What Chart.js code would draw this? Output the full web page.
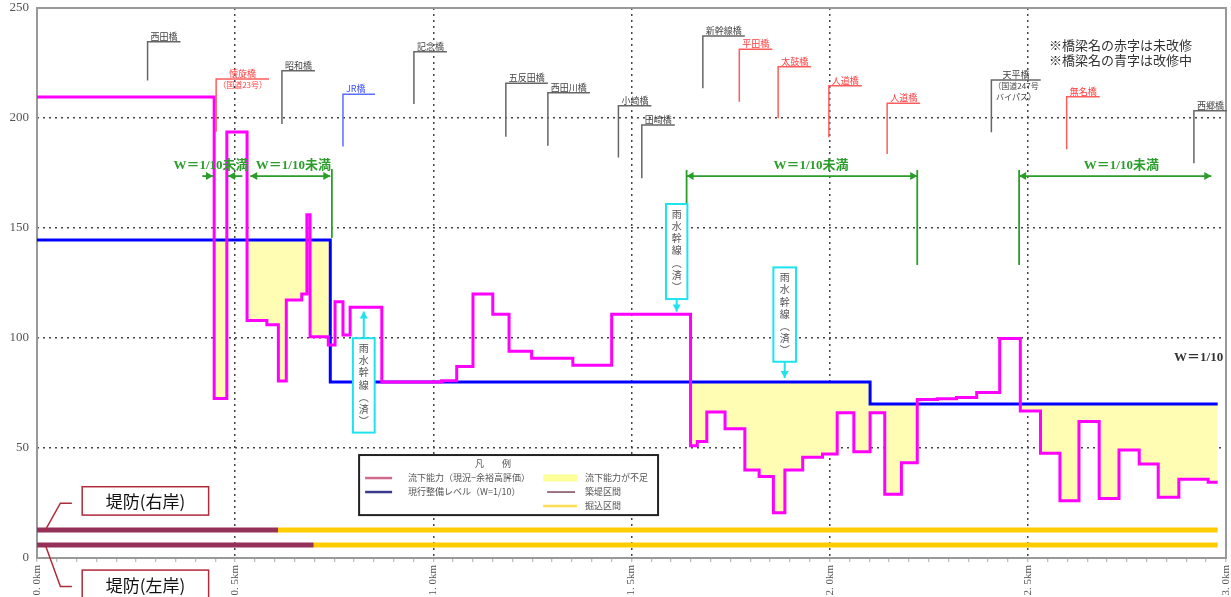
<!DOCTYPE html>
<html lang="ja">
<head>
<meta charset="utf-8">
<title>流下能力図</title>
<script src="https://cdn.jsdelivr.net/npm/chart.js@4.4.0/dist/chart.umd.min.js"></script>
<style>
  html, body { margin: 0; padding: 0; background: #fff; }
  #wrap { width: 1231px; height: 597px; position: relative; }
</style>
</head>
<body>
<div id="wrap"><canvas id="chart"></canvas></div>
<script>
// ---- data ----
// 流下能力（現況−余裕高評価）: start of each reach (km) and its value (m3/s)
const capacityKm = [0, 0.447, 0.479, 0.530, 0.580, 0.609, 0.629, 0.668, 0.681, 0.689,
  0.735, 0.752, 0.772, 0.790, 0.870, 1.021, 1.059, 1.100, 1.150, 1.191,
  1.248, 1.352, 1.450, 1.649, 1.666, 1.690, 1.736, 1.786, 1.822, 1.858,
  1.887, 1.932, 1.982, 2.019, 2.061, 2.102, 2.139, 2.181, 2.221, 2.272,
  2.320, 2.371, 2.429, 2.481, 2.532, 2.581, 2.629, 2.680, 2.730, 2.781,
  2.829, 2.881, 2.955, 2.979];
const capacityVal = [209.5, 72.5, 193.6, 108, 106, 80.5, 117.3, 120, 156, 100.6,
  96.8, 116.5, 101.4, 114, 80, 80.6, 87, 120, 110.8, 94,
  90.8, 87.6, 110.8, 51, 52.9, 66.4, 58.8, 40, 37, 20.6,
  40, 45.8, 47.3, 66, 48.3, 66, 29, 43.3, 72.1, 72.4,
  73, 75.2, 99.8, 66.8, 47.6, 26, 62, 27.1, 49.1, 42.7,
  27.6, 35.8, 34.4, 34.4];

// 現行整備レベル（W=1/10）
const levelKm = [0, 0.740, 2.102, 2.979];
const levelVal = [144.5, 80, 70, 70];

// 堤防: 築堤区間 -> 掘込区間 boundaries
const rightBankKm = [0, 0.608, 2.979];
const leftBankKm = [0, 0.698, 2.979];
const rightBankVal = 12.7;
const leftBankVal = 5.9;

// axis
const yTickStep = 50;
const xMinorStep = 0.05;

// bridges (state: done = 改修済, todo = 未改修(赤字), wip = 改修中(青字))
const bridgeNames = ['西田橋', '懐旋橋', '昭和橋', 'JR橋', '記念橋', '五反田橋', '西田川橋', '小崎橋', '田崎橋',
  '新幹線橋', '平田橋', '太鼓橋', '人道橋', '人道橋', '天平橋', '無名橋', '西郷橋'];
const bridgeKm = [0.279, 0.452, 0.618, 0.772, 0.951, 1.183, 1.289, 1.467, 1.526,
  1.680, 1.772, 1.870, 1.998, 2.145, 2.408, 2.598, 2.919];
const bridgeState = ['done', 'todo', 'done', 'wip', 'done', 'done', 'done', 'done', 'done',
  'done', 'todo', 'todo', 'todo', 'todo', 'done', 'todo', 'done'];
const bridgeSub = { 1: ['（国道23号）'], 14: ['（国道247号', 'バイパス）'] };

// ---- label layout (value units on the chart) ----
const bridgeTop = [234.7, 217.7, 221.5, 210.8, 230.1, 215.8, 211.5, 205.6, 196.8,
  237.3, 231.2, 223.3, 214.7, 206.7, 217.3, 209.7, 203.3];
const bridgeBottom = [217, 193.8, 197.3, 187, 206.4, 191.5, 187.4, 182, 172.6,
  213.5, 207.4, 199.9, 191.2, 183.6, 193.5, 185.8, 179.4];

const pts = (ks, vs) => ks.map((k, i) => ({ x: k, y: vs[i] }));
const flat = (ks, v) => ks.map(k => ({ x: k, y: v }));

function isMajor(v) {
  return Math.abs(v * 2 - Math.round(v * 2)) < 1e-6;
}
function fmtKm(v) {
  return v.toFixed(1).replace('.', '. ') + 'km';
}

const JP = '"Noto Sans CJK JP", sans-serif';
const SERIF = '"Liberation Serif", "Noto Sans CJK JP", serif';

// gray frame around the plot
const frame = {
  id: 'frame',
  beforeDatasetsDraw(chart) {
    const { ctx, chartArea: a } = chart;
    ctx.save();
    ctx.strokeStyle = '#999';
    ctx.lineWidth = 2;
    ctx.strokeRect(a.left, a.top, a.right - a.left, a.bottom - a.top);
    ctx.restore();
  }
};

function arrowHead(ctx, x, y, dir, color) {
  ctx.fillStyle = color;
  ctx.beginPath();
  if (dir === 'right') { ctx.moveTo(x, y); ctx.lineTo(x - 7, y - 4); ctx.lineTo(x - 7, y + 4); }
  if (dir === 'left') { ctx.moveTo(x, y); ctx.lineTo(x + 7, y - 4); ctx.lineTo(x + 7, y + 4); }
  if (dir === 'up') { ctx.moveTo(x, y); ctx.lineTo(x - 4, y + 7); ctx.lineTo(x + 4, y + 7); }
  if (dir === 'down') { ctx.moveTo(x, y); ctx.lineTo(x - 4, y - 7); ctx.lineTo(x + 4, y - 7); }
  ctx.closePath();
  ctx.fill();
}

const annotate = {
  id: 'annotate',
  afterDatasetsDraw(chart) {
    const { ctx, scales: { x, y } } = chart;
    const X = v => x.getPixelForValue(v);
    const Y = v => y.getPixelForValue(v);
    ctx.save();
    ctx.textBaseline = 'alphabetic';

    // bridges
    const lineCol = { done: '#666', todo: '#ff5c5c', wip: '#5c6cff' };
    const textCol = { done: '#444', todo: '#ff3c3c', wip: '#3c50ff' };
    bridgeNames.forEach((name, i) => {
      const bx = X(bridgeKm[i]), ty = Y(bridgeTop[i]), by = Y(bridgeBottom[i]);
      const subs = bridgeSub[i] || [];
      ctx.font = '9px ' + JP;
      const nw = ctx.measureText(name).width;
      ctx.font = '8px ' + JP;
      const sw = Math.max(0, ...subs.map(s => ctx.measureText(s).width));
      const len = Math.max(32, nw + 6, sw + 4);
      ctx.strokeStyle = lineCol[bridgeState[i]];
      ctx.lineWidth = 1.5;
      ctx.beginPath();
      ctx.moveTo(bx, by);
      ctx.lineTo(bx, ty);
      ctx.lineTo(bx + len, ty);
      ctx.stroke();
      ctx.fillStyle = textCol[bridgeState[i]];
      ctx.font = '9px ' + JP;
      if (subs.length) {
        ctx.textAlign = 'center';
        ctx.fillText(name, bx + len / 2, ty - 2);
        ctx.font = '8px ' + JP;
        subs.forEach((s, j) => ctx.fillText(s, bx + len / 2, ty + 9 + j * 11));
      } else {
        ctx.textAlign = 'left';
        ctx.fillText(name, bx + 3, ty - 2);
      }
    });

    // notes
    ctx.textAlign = 'left';
    ctx.fillStyle = '#333';
    ctx.font = '13px ' + JP;
    ctx.fillText('※橋梁名の赤字は未改修', 1049, 50);
    ctx.fillText('※橋梁名の青字は改修中', 1049, 65);

    // W=1/10未満 ranges
    const green = '#2a9d2a';
    const ay = Y(173.6);
    ctx.strokeStyle = green;
    ctx.lineWidth = 1.8;
    [[0.744, 176.8, 145.5], [1.639, 176.4, 160.9], [2.221, 176.4, 133.2], [2.478, 176.4, 133.2]]
      .forEach(([k, v1, v2]) => {
        ctx.beginPath(); ctx.moveTo(X(k), Y(v1)); ctx.lineTo(X(k), Y(v2)); ctx.stroke();
      });
    [[0.417, 0.444, false, true], [0.482, 0.518, true, false], [0.538, 0.740, true, true],
     [1.639, 2.221, true, true], [2.478, 2.963, true, true]].forEach(([a, b, hs, he]) => {
      ctx.beginPath(); ctx.moveTo(X(a), ay); ctx.lineTo(X(b), ay); ctx.stroke();
      if (hs) arrowHead(ctx, X(a), ay, 'left', green);
      if (he) arrowHead(ctx, X(b), ay, 'right', green);
    });
    ctx.fillStyle = green;
    ctx.font = 'bold 13px ' + SERIF;
    ctx.textAlign = 'center';
    [0.439, 0.647, 1.953, 2.736].forEach(k => ctx.fillText('W＝1/10未満', X(k), Y(176.8)));
    ctx.fillStyle = '#333';
    ctx.textAlign = 'right';
    ctx.fillText('W＝1/10', X(2.993), Y(89.5));

    // 雨水幹線（済）
    const cyan = '#1ee3ee';
    const boxes = [[0.797, 0.852, 99.9, 57.0, 112, 'up'], [1.587, 1.641, 160.9, 117.7, 112, 'down'],
      [1.858, 1.915, 132.1, 89.2, 81.8, 'down']];
    const chars = ['雨', '水', '幹', '線', '︵', '済', '︶'];
    boxes.forEach(([k1, k2, v1, v2, va, dir]) => {
      const l = X(k1), r = X(k2), t = Y(v1), b = Y(v2), cx = (l + r) / 2;
      ctx.fillStyle = '#fff';
      ctx.fillRect(l, t, r - l, b - t);
      ctx.strokeStyle = cyan;
      ctx.lineWidth = 2;
      ctx.strokeRect(l, t, r - l, b - t);
      ctx.beginPath();
      const sy = dir === 'up' ? t : b;
      ctx.moveTo(cx, sy); ctx.lineTo(cx, Y(va)); ctx.stroke();
      arrowHead(ctx, cx, Y(va), dir, cyan);
      ctx.fillStyle = '#555';
      ctx.font = '10px ' + JP;
      ctx.textAlign = 'center';
      ctx.textBaseline = 'middle';
      chars.forEach((c, j) => ctx.fillText(c, cx, t + 10 + j * 12.2));
      ctx.textBaseline = 'alphabetic';
    });

    // legend (凡例)
    const L = X(0.8127), T = Y(46.8), R = X(1.567), B = Y(19.5);
    ctx.fillStyle = '#fff';
    ctx.fillRect(L, T, R - L, B - T);
    ctx.strokeStyle = '#222';
    ctx.lineWidth = 2;
    ctx.strokeRect(L, T, R - L, B - T);
    ctx.fillStyle = '#555';
    ctx.font = '9px ' + JP;
    ctx.textAlign = 'center';
    ctx.fillText('凡　　例', L + 134, T + 12);
    ctx.textAlign = 'left';
    const row = [T + 23, T + 37, T + 51];
    const sample = (x1, x2, yy, col, w) => {
      ctx.strokeStyle = col; ctx.lineWidth = w;
      ctx.beginPath(); ctx.moveTo(x1, yy); ctx.lineTo(x2, yy); ctx.stroke();
    };
    sample(L + 6, L + 33, row[0], '#d06a8c', 2.5);
    sample(L + 6, L + 33, row[1], '#3a3a8c', 2.5);
    sample(L + 184, L + 218, row[0], '#ffff9a', 7);
    sample(L + 188, L + 216, row[1], '#7a4a5a', 1.5);
    sample(L + 184, L + 218, row[2], '#ffdd55', 2.5);
    ctx.fillStyle = '#555';
    ctx.textBaseline = 'middle';
    ctx.fillText('流下能力（現況−余裕高評価）', L + 49, row[0]);
    ctx.fillText('現行整備レベル（W=1/10）', L + 49, row[1]);
    ctx.fillText('流下能力が不足', L + 226, row[0]);
    ctx.fillText('築堤区間', L + 226, row[1]);
    ctx.fillText('掘込区間', L + 226, row[2]);

    // 堤防 labels
    const crimson = '#b02a3a';
    const tag = (text, v1, v2, lead) => {
      const l = X(0.114), r = X(0.433), t = Y(v1), b = Y(v2);
      ctx.fillStyle = '#fff';
      ctx.fillRect(l, t, r - l, b - t);
      ctx.strokeStyle = crimson;
      ctx.lineWidth = 1.5;
      ctx.strokeRect(l, t, r - l, b - t);
      ctx.beginPath();
      lead.forEach(([k, v], j) => j ? ctx.lineTo(X(k), Y(v)) : ctx.moveTo(X(k), Y(v)));
      ctx.stroke();
      ctx.fillStyle = '#111';
      ctx.font = '17px ' + JP;
      ctx.textAlign = 'center';
      ctx.fillText(text, (l + r) / 2, (t + b) / 2 + 1);
    };
    tag('堤防(右岸)', 32.4, 19.5, [[0.088, 24.9], [0.059, 24.9], [0.021, rightBankVal]]);
    tag('堤防(左岸)', -5.5, -18.2, [[0.021, leftBankVal], [0.059, -13], [0.088, -13]]);

    ctx.restore();
  }
};

const maroon = '#953058';
const bankYellow = '#ffcc00';

new Chart(document.getElementById('chart'), {
  type: 'line',
  data: {
    datasets: [
      {
        label: '流下能力（現況−余裕高評価）',
        data: pts(capacityKm, capacityVal),
        stepped: 'before',
        borderColor: '#ff00ff',
        borderWidth: 3,
        borderJoinStyle: 'miter',
        pointRadius: 0,
        fill: { target: 1, above: 'rgba(0,0,0,0)', below: '#fffcb4' }
      },
      {
        label: '現行整備レベル（W=1/10）',
        data: pts(levelKm, levelVal),
        stepped: 'before',
        borderColor: '#0000ff',
        borderWidth: 3,
        borderJoinStyle: 'miter',
        pointRadius: 0,
        fill: false
      },
      { label: '築堤区間(右岸)', data: flat(rightBankKm.slice(0, 2), rightBankVal), borderColor: maroon, borderWidth: 5, pointRadius: 0, fill: false },
      { label: '掘込区間(右岸)', data: flat(rightBankKm.slice(1), rightBankVal), borderColor: bankYellow, borderWidth: 5, pointRadius: 0, fill: false },
      { label: '築堤区間(左岸)', data: flat(leftBankKm.slice(0, 2), leftBankVal), borderColor: maroon, borderWidth: 5, pointRadius: 0, fill: false },
      { label: '掘込区間(左岸)', data: flat(leftBankKm.slice(1), leftBankVal), borderColor: bankYellow, borderWidth: 5, pointRadius: 0, fill: false }
    ]
  },
  options: {
    responsive: true,
    maintainAspectRatio: false,
    animation: false,
    events: [],
    layout: { padding: { top: 8, right: 5, left: 0, bottom: 0 } },
    plugins: {
      legend: { display: false },
      tooltip: { enabled: false },
      filler: { drawTime: 'beforeDatasetsDraw' }
    },
    scales: {
      x: {
        type: 'linear',
        min: 0,
        max: 3,
        afterFit: s => { s.height = 39; s.paddingLeft = 0; s.paddingRight = 0; },
        ticks: {
          stepSize: xMinorStep,
          autoSkip: false,
          minRotation: 90,
          maxRotation: 90,
          padding: 3,
          color: '#555',
          font: { family: SERIF, size: 11 },
          callback: v => isMajor(v) ? fmtKm(v) : ''
        },
        grid: {
          color: c => (c.tick && isMajor(c.tick.value) && c.tick.value > 0.01 && c.tick.value < 2.99) ? '#444' : 'rgba(0,0,0,0)',
          lineWidth: 1.5,
          tickColor: '#aaa',
          tickWidth: 1,
          tickLength: 4
        },
        border: { display: false, dash: [2, 4] }
      },
      y: {
        min: 0,
        max: 250,
        afterFit: s => { s.width = 37; s.paddingTop = 0; s.paddingBottom = 0; },
        ticks: {
          stepSize: yTickStep,
          padding: 8,
          color: '#555',
          font: { family: SERIF, size: 13 }
        },
        grid: {
          color: c => (c.tick && c.tick.value > 0 && c.tick.value < 250) ? '#444' : 'rgba(0,0,0,0)',
          lineWidth: 1.5,
          drawTicks: false
        },
        border: { display: false, dash: [2, 4] }
      }
    }
  },
  plugins: [frame, annotate]
});
</script>
</body>
</html>
